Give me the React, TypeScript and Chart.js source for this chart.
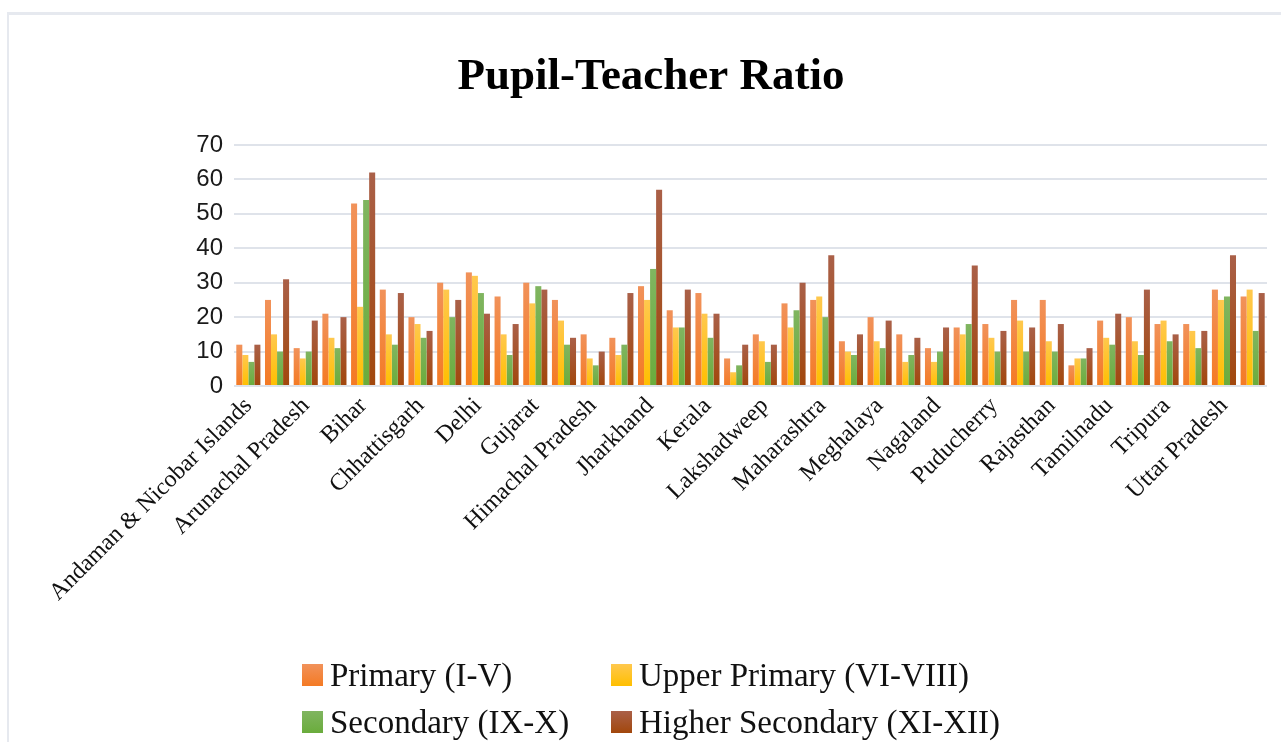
import React, { useEffect, useRef } from "react";
import { Chart, registerables } from "chart.js";

Chart.register(...registerables);

const categories = [
  "Andaman & Nicobar Islands", "Andhra Pradesh", "Arunachal Pradesh", "Assam",
  "Bihar", "Chandigarh", "Chhattisgarh", "Dadra & Nagar Haveli",
  "Delhi", "Goa", "Gujarat", "Haryana",
  "Himachal Pradesh", "Jammu & Kashmir", "Jharkhand", "Karnataka",
  "Kerala", "Ladakh", "Lakshadweep", "Madhya Pradesh",
  "Maharashtra", "Manipur", "Meghalaya", "Mizoram",
  "Nagaland", "Odisha", "Puducherry", "Punjab",
  "Rajasthan", "Sikkim", "Tamilnadu", "Telangana",
  "Tripura", "Uttarakhand", "Uttar Pradesh", "West Bengal",
];

const primary = [12, 25, 11, 21, 53, 28, 20, 30, 33, 26, 30, 25, 15, 14, 29, 22, 27, 8, 15, 24, 25, 13, 20, 15, 11, 17, 18, 25, 25, 6, 19, 20, 18, 18, 28, 26];
const upperPrimary = [9, 15, 8, 14, 23, 15, 18, 28, 32, 15, 24, 19, 8, 9, 25, 17, 21, 4, 13, 17, 26, 10, 13, 7, 7, 15, 14, 19, 13, 8, 14, 13, 19, 16, 25, 28];
const secondary = [7, 10, 10, 11, 54, 12, 14, 20, 27, 9, 29, 12, 6, 12, 34, 17, 14, 6, 7, 22, 20, 9, 11, 9, 10, 18, 10, 10, 10, 8, 12, 9, 13, 11, 26, 16];
const higherSecondary = [12, 31, 19, 20, 62, 27, 16, 25, 21, 18, 28, 14, 10, 27, 57, 28, 21, 12, 12, 30, 38, 15, 19, 14, 17, 35, 16, 17, 18, 11, 21, 28, 15, 16, 38, 27];

const seriesNames = ["Primary (I-V)", "Upper Primary (VI-VIII)", "Secondary (IX-X)", "Higher Secondary (XI-XII)"];
const yMin = 0;
const yMax = 70;
const yStep = 10;

const palette = [
  { top: "#F1925A", bottom: "#F47A24", box: "#F0843C" },
  { top: "#FFC84E", bottom: "#FFBF00", box: "#FFC22A" },
  { top: "#80B560", bottom: "#6AAC3C", box: "#71AE48" },
  { top: "#AA6048", bottom: "#A2470C", box: "#A3522A" },
];

const SERIF = '"Liberation Serif", "Times New Roman", serif';
const SANS = '"Liberation Sans", Arial, sans-serif';

function barFill(idx: number) {
  return (ctx: any) => {
    const chart = ctx.chart;
    const y = chart.scales && chart.scales.y;
    const v = ctx.raw;
    if (!y || typeof v !== "number" || !chart.chartArea) return palette[idx].box;
    const top = y.getPixelForValue(v);
    const bottom = y.getPixelForValue(0);
    if (!isFinite(top) || !isFinite(bottom) || bottom - top < 1) return palette[idx].bottom;
    const g = chart.ctx.createLinearGradient(0, top, 0, bottom);
    g.addColorStop(0, palette[idx].top);
    g.addColorStop(1, palette[idx].bottom);
    return g;
  };
}

const gridLegend = {
  id: "gridLegend",
  afterDraw(chart: any) {
    const c = chart.ctx;
    const cols = [293, 602];
    const rows = [649, 696];
    chart.data.datasets.forEach((ds: any, i: number) => {
      const x = cols[i % 2];
      const y = rows[Math.floor(i / 2)];
      c.save();
      const g = c.createLinearGradient(0, y, 0, y + 22);
      g.addColorStop(0, palette[i].top);
      g.addColorStop(1, palette[i].bottom);
      c.fillStyle = g;
      c.fillRect(x, y, 21, 22);
      c.fillStyle = "#111111";
      c.font = `33px ${SERIF}`;
      c.textBaseline = "alphabetic";
      c.textAlign = "left";
      c.fillText(ds.label, x + 28, y + 22);
      c.restore();
    });
  },
};

export default function App() {
  const ref = useRef<HTMLCanvasElement | null>(null);

  useEffect(() => {
    if (!ref.current) return;
    const seriesData = [primary, upperPrimary, secondary, higherSecondary];
    const chart = new Chart(ref.current, {
      type: "bar",
      data: {
        labels: categories,
        datasets: seriesData.map((d, i) => ({
          label: seriesNames[i],
          data: d,
          backgroundColor: barFill(i),
          borderWidth: 0,
          categoryPercentage: 0.84,
          barPercentage: 1.0,
        })),
      },
      options: {
        responsive: false,
        animation: false,
        layout: { padding: { left: 26, right: 14, top: 0, bottom: 116 } },
        plugins: {
          legend: { display: false },
          tooltip: { enabled: false },
          title: {
            display: true,
            text: "Pupil-Teacher Ratio",
            color: "#000000",
            font: { family: SERIF, size: 45, weight: "bold" },
            padding: { top: 35, bottom: 41 },
          },
        },
        scales: {
          x: {
            grid: { display: false, drawTicks: false },
            border: { display: false },
            afterFit: (scale: any) => {
              scale.height = 240;
            },
            ticks: {
              autoSkip: false,
              minRotation: 45,
              maxRotation: 45,
              padding: 6,
              color: "#111111",
              font: { family: SERIF, size: 24 },
              callback: function (this: any, value: any, index: number) {
                return index % 2 === 0 ? this.getLabelForValue(value) : "";
              },
            },
          },
          y: {
            min: yMin,
            max: yMax,
            afterFit: (scale: any) => {
              scale.width = 199;
            },
            grid: { color: "#dfe3ea", lineWidth: 2, drawTicks: false },
            border: { display: false },
            ticks: {
              stepSize: yStep,
              padding: 11,
              color: "#1a1a1a",
              font: { family: SANS, size: 24 },
            },
          },
        },
      },
      plugins: [gridLegend],
    });
    return () => chart.destroy();
  }, []);

  return (
    <>
      <div style={{ position: "absolute", left: 7, top: 12, width: 1274, height: 3, background: "#e6e9ef" }} />
      <div style={{ position: "absolute", left: 7, top: 12, width: 2, height: 730, background: "#e6e9ef" }} />
      <div style={{ position: "absolute", left: 9, top: 15, width: 1272, height: 727, overflow: "hidden", background: "#ffffff" }}>
        <canvas ref={ref} width={1272} height={727} style={{ display: "block" }} />
      </div>
    </>
  );
}
